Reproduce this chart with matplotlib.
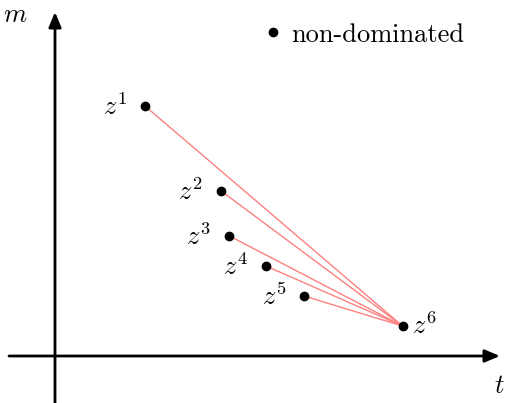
import matplotlib
matplotlib.use("Agg")
import matplotlib.pyplot as plt
from matplotlib.lines import Line2D

plt.rcParams["mathtext.fontset"] = "cm"

# Solution points in the (t, m) plane
labels = ["$z^{1}$", "$z^{2}$", "$z^{3}$", "$z^{4}$", "$z^{5}$", "$z^{6}$"]
t_vals = [1.80, 3.31, 3.47, 4.22, 4.98, 6.95]
m_vals = [5.00, 3.31, 2.41, 1.80, 1.20, 0.60]
legend_label = "non-dominated"

fig = plt.figure(figsize=(5.05, 4.03), dpi=100)
ax = fig.add_axes([0, 0, 1, 1])
ax.set_xlim(-1.10, 9.00)
ax.set_ylim(-0.94, 7.12)
ax.axis("off")

# Coordinate axes with arrow heads
arrow_kw = dict(arrowstyle="-|>,head_length=0.6,head_width=0.25",
                color="black", lw=2.0, shrinkA=0, shrinkB=0,
                mutation_scale=15)
ax.annotate("", xy=(8.90, 0), xytext=(-0.92, 0), arrowprops=arrow_kw)
ax.annotate("", xy=(0, 6.88), xytext=(0, -0.94), arrowprops=arrow_kw)
ax.text(-0.80, 6.82, "$m$", fontsize=19, ha="center", va="center")
ax.text(8.88, -0.60, "$t$", fontsize=19, ha="center", va="center")

# Links from every point to the last one
last = len(t_vals) - 1
for i in range(last):
    ax.plot([t_vals[i], t_vals[last]], [m_vals[i], m_vals[last]],
            color="#ff8080", lw=1.0, zorder=2)

ax.plot(t_vals, m_vals, "o", color="black", markersize=6, zorder=3)

for i, (t, m, lab) in enumerate(zip(t_vals, m_vals, labels)):
    if i == last:
        ax.annotate(lab, (t, m), xytext=(10, -1), textcoords="offset pixels",
                    ha="left", va="center", fontsize=19)
    else:
        ax.annotate(lab, (t, m), xytext=(-18, -2), textcoords="offset pixels",
                    ha="right", va="center", fontsize=19)

handle = Line2D([], [], marker="o", color="black", linestyle="none",
                markersize=6)
ax.legend([handle], [legend_label], loc="upper left",
          bbox_to_anchor=(260 / 505, 1 - 23 / 403), frameon=False,
          prop={"family": "cmr10", "size": 19}, handlelength=1.0,
          handletextpad=0.19, borderpad=0.0, borderaxespad=0.0)

fig.savefig("out.png", dpi=100)
